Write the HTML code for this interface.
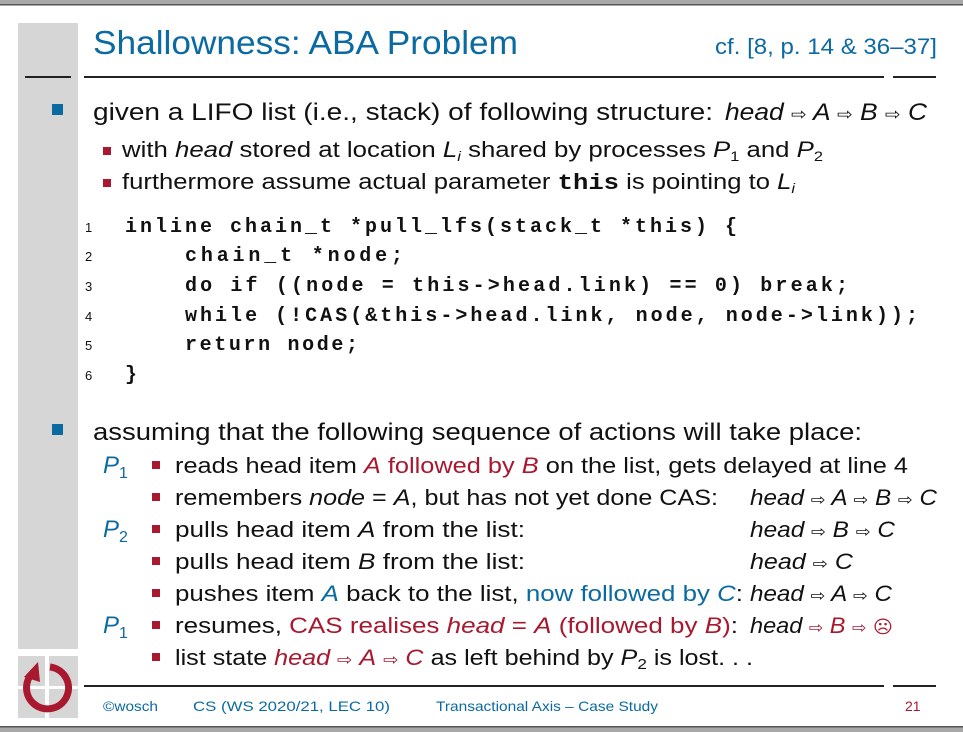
<!DOCTYPE html>
<html><head><meta charset="utf-8"><style>
html,body{margin:0;padding:0;background:#fff;}
svg{display:block}
text{font-family:"Liberation Sans","DejaVu Sans",sans-serif;}
.m{font-family:"Liberation Mono","DejaVu Sans Mono",monospace;font-weight:bold;}
</style></head><body>
<svg width="963" height="732" viewBox="0 0 963 732" xmlns="http://www.w3.org/2000/svg">
<rect x="0" y="0" width="963" height="5" fill="#a8a8a8"/>
<rect x="0" y="4" width="963" height="1.5" fill="#555"/>
<rect x="0" y="726" width="963" height="6" fill="#a8a8a8"/>
<rect x="0" y="726" width="963" height="1.5" fill="#555"/>
<!-- left gray column -->
<rect x="18" y="23" width="60" height="626" fill="#d6d6d6"/>
<rect x="18" y="656" width="27" height="30" fill="#d6d6d6"/>
<rect x="49" y="656" width="29" height="30" fill="#d6d6d6"/>
<rect x="18" y="689" width="27" height="29" fill="#d6d6d6"/>
<rect x="49" y="689" width="29" height="29" fill="#d6d6d6"/>
<path d="M 35 671 A 21 21 0 1 0 50 667" fill="none" stroke="#a8182e" stroke-width="7"/>
<polygon points="24,677 38,662 40,682" fill="#a8182e"/>
<!-- rules -->
<rect x="25" y="76" width="46" height="2" fill="#222"/>
<rect x="84" y="76" width="800" height="2" fill="#222"/>
<rect x="893" y="76" width="43" height="2" fill="#222"/>
<rect x="84" y="685" width="800" height="2" fill="#222"/>
<rect x="893" y="685" width="43" height="2" fill="#222"/>
<!-- title -->
<text x="93" y="54" font-size="33" fill="#0b6aa2" textLength="425" lengthAdjust="spacingAndGlyphs">Shallowness: ABA Problem</text>
<text x="715" y="54" font-size="22" fill="#0b6aa2" textLength="222" lengthAdjust="spacingAndGlyphs">cf. [8, p. 14 &amp; 36–37]</text>
<!-- bullet 1 -->
<rect x="52" y="104" width="11" height="11" fill="#0b6aa2"/>
<text x="93" y="120" font-size="24" fill="#111" textLength="620" lengthAdjust="spacingAndGlyphs">given a LIFO list (i.e., stack) of following structure:</text>
<text x="725" y="120" font-size="24" fill="#111" font-style="italic" textLength="202" lengthAdjust="spacingAndGlyphs">head <tspan font-style="normal" font-size="17">⇨</tspan> A <tspan font-style="normal" font-size="17">⇨</tspan> B <tspan font-style="normal" font-size="17">⇨</tspan> C</text>
<rect x="103" y="147" width="8" height="8" fill="#a8182e"/>
<text x="122" y="157" font-size="22" fill="#111" textLength="701" lengthAdjust="spacingAndGlyphs">with <tspan font-style="italic">head</tspan> stored at location <tspan font-style="italic">L<tspan font-size="14" dy="4">i</tspan></tspan><tspan dy="-4"> shared by processes </tspan><tspan font-style="italic">P</tspan><tspan font-size="14" dy="4">1</tspan><tspan dy="-4"> and </tspan><tspan font-style="italic">P</tspan><tspan font-size="14" dy="4">2</tspan></text>
<rect x="103" y="179" width="8" height="8" fill="#a8182e"/>
<text x="122" y="189" font-size="22" fill="#111" textLength="673" lengthAdjust="spacingAndGlyphs">furthermore assume actual parameter <tspan class="m" font-weight="normal">this</tspan> is pointing to <tspan font-style="italic">L<tspan font-size="14" dy="4">i</tspan></tspan></text>
<!-- code -->
<g font-size="13" fill="#111">
<text x="85" y="232">1</text><text x="85" y="261">2</text><text x="85" y="291">3</text>
<text x="85" y="321">4</text><text x="85" y="350">5</text><text x="85" y="380">6</text>
</g>
<g font-size="20" fill="#111">
<text class="m" x="125" y="232" textLength="612" lengthAdjust="spacing">inline chain_t *pull_lfs(stack_t *this) {</text>
<text class="m" x="185" y="261" textLength="218" lengthAdjust="spacing">chain_t *node;</text>
<text class="m" x="185" y="291" textLength="663" lengthAdjust="spacing">do if ((node = this-&gt;head.link) == 0) break;</text>
<text class="m" x="185" y="321" textLength="733" lengthAdjust="spacing">while (!CAS(&amp;this-&gt;head.link, node, node-&gt;link));</text>
<text class="m" x="185" y="350" textLength="173" lengthAdjust="spacing">return node;</text>
<text class="m" x="125" y="380">}</text>
</g>
<!-- bullet 2 -->
<rect x="52" y="424" width="11" height="11" fill="#0b6aa2"/>
<text x="93" y="440" font-size="24" fill="#111" textLength="769" lengthAdjust="spacingAndGlyphs">assuming that the following sequence of actions will take place:</text>
<g font-size="24" fill="#0b6aa2" font-style="italic">
<text x="103" y="473">P<tspan font-style="normal" font-size="16" dy="5">1</tspan></text>
<text x="103" y="537">P<tspan font-style="normal" font-size="16" dy="5">2</tspan></text>
<text x="103" y="633">P<tspan font-style="normal" font-size="16" dy="5">1</tspan></text>
</g>
<g fill="#a8182e">
<rect x="152" y="461" width="8" height="8"/><rect x="152" y="493" width="8" height="8"/>
<rect x="152" y="525" width="8" height="8"/><rect x="152" y="557" width="8" height="8"/>
<rect x="152" y="589" width="8" height="8"/><rect x="152" y="621" width="8" height="8"/>
<rect x="152" y="653" width="8" height="8"/>
</g>
<g font-size="22" fill="#111">
<text x="175" y="473" textLength="733" lengthAdjust="spacingAndGlyphs">reads head item <tspan fill="#a8182e"><tspan font-style="italic">A</tspan> followed by <tspan font-style="italic">B</tspan></tspan> on the list, gets delayed at line 4</text>
<text x="175" y="505" textLength="543" lengthAdjust="spacingAndGlyphs">remembers <tspan font-style="italic">node</tspan> = <tspan font-style="italic">A</tspan>, but has not yet done CAS:</text>
<text x="175" y="537" textLength="350" lengthAdjust="spacingAndGlyphs">pulls head item <tspan font-style="italic">A</tspan> from the list:</text>
<text x="175" y="569" textLength="350" lengthAdjust="spacingAndGlyphs">pulls head item <tspan font-style="italic">B</tspan> from the list:</text>
<text x="175" y="601" textLength="568" lengthAdjust="spacingAndGlyphs">pushes item <tspan font-style="italic" fill="#0b6aa2">A</tspan> back to the list, <tspan fill="#0b6aa2">now followed by <tspan font-style="italic">C</tspan></tspan>:</text>
<text x="175" y="633" textLength="563" lengthAdjust="spacingAndGlyphs">resumes, <tspan fill="#a8182e">CAS realises <tspan font-style="italic">head</tspan> = <tspan font-style="italic">A</tspan> (followed by <tspan font-style="italic">B</tspan>)</tspan>:</text>
<text x="175" y="665" textLength="578" lengthAdjust="spacingAndGlyphs">list state <tspan fill="#a8182e"><tspan font-style="italic">head</tspan> <tspan font-size="16">⇨</tspan> <tspan font-style="italic">A</tspan> <tspan font-size="16">⇨</tspan> <tspan font-style="italic">C</tspan></tspan> as left behind by <tspan font-style="italic">P</tspan><tspan font-size="15" dy="4">2</tspan><tspan dy="-4"> is lost. . .</tspan></text>
</g>
<g font-size="22" fill="#111" font-style="italic">
<text x="750" y="505" textLength="187" lengthAdjust="spacingAndGlyphs">head <tspan font-style="normal" font-size="16">⇨</tspan> A <tspan font-style="normal" font-size="16">⇨</tspan> B <tspan font-style="normal" font-size="16">⇨</tspan> C</text>
<text x="750" y="537" textLength="145" lengthAdjust="spacingAndGlyphs">head <tspan font-style="normal" font-size="16">⇨</tspan> B <tspan font-style="normal" font-size="16">⇨</tspan> C</text>
<text x="750" y="569" textLength="103" lengthAdjust="spacingAndGlyphs">head <tspan font-style="normal" font-size="16">⇨</tspan> C</text>
<text x="750" y="601" textLength="142" lengthAdjust="spacingAndGlyphs">head <tspan font-style="normal" font-size="16">⇨</tspan> A <tspan font-style="normal" font-size="16">⇨</tspan> C</text>
<text x="750" y="633" textLength="143" lengthAdjust="spacingAndGlyphs">head <tspan font-style="normal" font-size="16" fill="#a8182e">⇨</tspan> <tspan fill="#a8182e">B</tspan> <tspan font-style="normal" font-size="16" fill="#a8182e">⇨</tspan> <tspan font-style="normal" font-size="18" fill="#a8182e">☹</tspan></text>
</g>
<!-- footer -->
<g font-size="14">
<text x="103" y="711" fill="#0b6aa2" textLength="55" lengthAdjust="spacingAndGlyphs">©wosch</text>
<text x="193" y="711" fill="#0b6aa2" textLength="197" lengthAdjust="spacingAndGlyphs">CS (WS 2020/21, LEC 10)</text>
<text x="436" y="711" fill="#0b6aa2" textLength="222" lengthAdjust="spacingAndGlyphs">Transactional Axis – Case Study</text>
<text x="905" y="711" fill="#a8182e">21</text>
</g>
</svg>
</body></html>
